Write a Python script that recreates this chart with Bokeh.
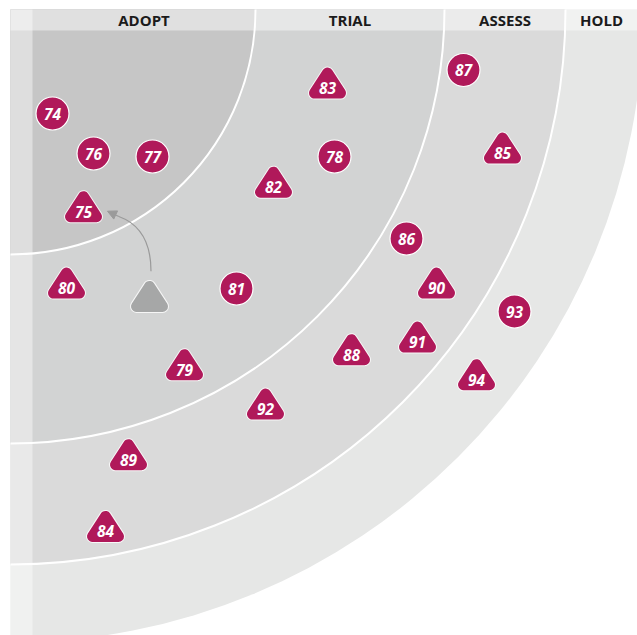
import numpy as np
from bokeh.plotting import figure
from bokeh.models import Range1d, Arrow, NormalHead
from bokeh.core.properties import value
from bokeh.embed import file_html
from bokeh.resources import INLINE

# ---- data -------------------------------------------------------------
ring_names = ["ADOPT", "TRIAL", "ASSESS", "HOLD"]
ring_radii = [245, 434, 555, 633]
ring_colors = ["#c6c6c6", "#d2d3d3", "#dadada", "#e6e7e6"]

blip_ids = [74, 75, 76, 77, 78, 79, 80, 81, 82, 83, 84,
            85, 86, 87, 88, 89, 90, 91, 92, 93, 94]
# position inside the quadrant: x to the right, y downward (px from the corner)
blip_x = [42, 73, 83, 142, 324, 174, 56, 226, 263, 317, 95,
          492, 396, 453, 341, 118, 426, 407, 255, 504, 466]
blip_y = [104, 202, 144, 147, 147, 360, 278.4, 279, 177.5, 78.4, 521.7,
          143.4, 229, 60.5, 345, 450, 278.4, 332.4, 399.4, 302, 370]
blip_shape = ["circle", "triangle", "circle", "circle", "circle", "triangle",
              "triangle", "circle", "triangle", "triangle", "triangle",
              "triangle", "circle", "circle", "triangle", "triangle",
              "triangle", "triangle", "triangle", "circle", "triangle"]

moved_id = 75
prev_x = 139
prev_y = 291.7

BLIP = "#b0195a"
GREY = "#a6a7a7"
HEADER_H = 21
LEFT_W = 22

# rounded-triangle template (style: offsets of the sharp core, px, y downward)
TRI_DX = [-13, 13, 0]
TRI_DY = [5.2, 5.2, -14.8]
TRI_ROUND = 11

# ---- figure -----------------------------------------------------------
p = figure(width=637, height=635, x_range=Range1d(-10, 627), y_range=Range1d(-626, 9),
           output_backend="svg", toolbar_location=None, min_border=0,
           x_axis_type=None, y_axis_type=None)
p.grid.visible = False
p.outline_line_color = None
p.background_fill_color = "white"
p.border_fill_color = "white"

# rings
for r, c in reversed(list(zip(ring_radii, ring_colors))):
    p.wedge(x=0, y=0, radius=r, start_angle=-np.pi / 2, end_angle=0,
            fill_color=c, line_color=None)
for r in ring_radii[:-1]:
    p.arc(x=0, y=0, radius=r, start_angle=-np.pi / 2, end_angle=0,
          line_color="white", line_width=2)

# header and left bands
p.quad(left=0, right=640, top=0, bottom=-HEADER_H, fill_color="white",
       fill_alpha=0.45, line_color=None)
p.quad(left=0, right=LEFT_W, top=0, bottom=-640, fill_color="white",
       fill_alpha=0.42, line_color=None)

# ring titles
lab_x = []
for i, r in enumerate(ring_radii):
    inner = LEFT_W if i == 0 else ring_radii[i - 1]
    outer = min(r, 627)
    lab_x.append((inner + outer) / 2)
p.text(x=lab_x, y=[-HEADER_H / 2] * 4, text=ring_names, text_align="center",
       text_baseline="middle", text_color="#1b1b1b", text_font=value("Open Sans"),
       text_font_size="15px", text_font_style="bold")


def tri_patches(xs, ys):
    px = [[x + d for d in TRI_DX] for x in xs]
    py = [[-(y + d) for d in TRI_DY] for y in ys]
    return px, py


def draw_tris(xs, ys, color):
    px, py = tri_patches(xs, ys)
    p.patches(px, py, fill_color="white", line_color="white", line_width=TRI_ROUND + 2,
              line_join="round", alpha=0.8)
    p.patches(px, py, fill_color=color, line_color=color, line_width=TRI_ROUND,
              line_join="round")


# movement arrow (previous position of a blip)
mi = blip_ids.index(moved_id)
sx, sy = prev_x + 1.5, prev_y - 30
ex, ey = blip_x[mi] + 24, blip_y[mi] - 0.3
cx, cy = sx, ey + 17
t = 0.86
hx = (1 - t) ** 2 * sx + 2 * (1 - t) * t * cx + t ** 2 * ex
hy = (1 - t) ** 2 * sy + 2 * (1 - t) * t * cy + t ** 2 * ey
p.quadratic(x0=[sx], y0=[-sy], x1=[hx], y1=[-hy], cx=[cx], cy=[-cy],
            line_color="#9a9a9a", line_width=1.2)
p.add_layout(Arrow(end=NormalHead(size=9, fill_color="#9a9a9a", line_color="#9a9a9a"),
                   x_start=hx, y_start=-hy, x_end=ex, y_end=-ey,
                   line_color="#9a9a9a", line_width=1.2))

draw_tris([prev_x], [prev_y], GREY)

# blips
tri_x = [x for x, s in zip(blip_x, blip_shape) if s == "triangle"]
tri_y = [y for y, s in zip(blip_y, blip_shape) if s == "triangle"]
cir_x = [x for x, s in zip(blip_x, blip_shape) if s == "circle"]
cir_y = [-y for y, s in zip(blip_y, blip_shape) if s == "circle"]

draw_tris(tri_x, tri_y, BLIP)
p.scatter(x=cir_x, y=cir_y, marker="circle", size=33, fill_color=BLIP,
          line_color="white", line_width=1.2)

p.text(x=blip_x, y=[-y for y in blip_y], text=[str(b) for b in blip_ids],
       text_align="center", text_baseline="middle", text_color="white",
       text_font=value("Open Sans"), text_font_size="15.5px", text_font_style="bold italic")

open("out.html", "w").write(file_html(p, INLINE))
